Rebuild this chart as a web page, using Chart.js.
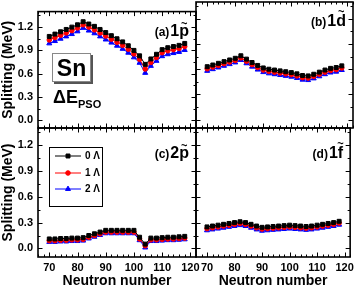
<!DOCTYPE html>
<html>
<head>
<meta charset="utf-8">
<script src="https://cdn.jsdelivr.net/npm/chart.js@4.4.1/dist/chart.umd.min.js"></script>
<style>
html, body { margin: 0; padding: 0; background: #fff; }
#wrap { position: relative; width: 358px; height: 288px; overflow: hidden; background: #fff; }
#wrap canvas { position: absolute; left: 0; top: 0; }
</style>
</head>
<body>
<div id="wrap">
    <canvas id="pa" width="358" height="288"></canvas>
    <canvas id="pb" width="358" height="288"></canvas>
    <canvas id="pc" width="358" height="288"></canvas>
    <canvas id="pd" width="358" height="288"></canvas>
</div>
<script>
// neutron numbers on the x axis
const neutrons = [70, 72, 74, 76, 78, 80, 82, 84, 86, 88, 90, 92, 94, 96, 98, 100, 102, 104, 106, 108, 110, 112, 114, 116, 118]

// (a) 1p~
const p1_0 = [1.08, 1.11, 1.14, 1.17, 1.20, 1.23, 1.27, 1.24, 1.21, 1.17, 1.13, 1.09, 1.05, 1.01, 0.96, 0.90, 0.83, 0.72, 0.79, 0.85, 0.91, 0.935, 0.95, 0.965, 0.99]
const p1_1 = [1.035, 1.065, 1.095, 1.125, 1.155, 1.19, 1.23, 1.20, 1.165, 1.125, 1.085, 1.045, 1.005, 0.965, 0.915, 0.855, 0.785, 0.66, 0.745, 0.81, 0.87, 0.895, 0.91, 0.925, 0.95]
const p1_2 = [0.99, 1.02, 1.05, 1.08, 1.11, 1.145, 1.19, 1.155, 1.12, 1.08, 1.04, 1.0, 0.96, 0.92, 0.87, 0.81, 0.74, 0.61, 0.70, 0.765, 0.825, 0.85, 0.865, 0.88, 0.905]
// (b) 1d~
const d1_0 = [0.63, 0.65, 0.67, 0.69, 0.71, 0.73, 0.76, 0.72, 0.68, 0.645, 0.615, 0.60, 0.59, 0.58, 0.57, 0.56, 0.545, 0.525, 0.52, 0.54, 0.565, 0.59, 0.61, 0.62, 0.64]
const d1_1 = [0.605, 0.625, 0.645, 0.665, 0.685, 0.705, 0.735, 0.695, 0.655, 0.62, 0.59, 0.575, 0.565, 0.555, 0.545, 0.535, 0.52, 0.50, 0.495, 0.515, 0.54, 0.565, 0.585, 0.595, 0.615]
const d1_2 = [0.58, 0.60, 0.62, 0.64, 0.66, 0.68, 0.71, 0.67, 0.63, 0.595, 0.565, 0.55, 0.54, 0.53, 0.52, 0.51, 0.495, 0.475, 0.47, 0.49, 0.515, 0.54, 0.56, 0.57, 0.59]
// (c) 2p~
const p2_0 = [0.11, 0.11, 0.115, 0.115, 0.12, 0.12, 0.125, 0.15, 0.17, 0.19, 0.21, 0.21, 0.21, 0.21, 0.21, 0.21, 0.13, 0.05, 0.12, 0.12, 0.125, 0.13, 0.13, 0.135, 0.14]
const p2_1 = [0.09, 0.09, 0.095, 0.095, 0.10, 0.10, 0.105, 0.13, 0.15, 0.17, 0.19, 0.19, 0.19, 0.19, 0.19, 0.19, 0.11, 0.03, 0.10, 0.10, 0.105, 0.11, 0.11, 0.115, 0.12]
const p2_2 = [0.075, 0.075, 0.08, 0.08, 0.085, 0.085, 0.09, 0.115, 0.135, 0.155, 0.175, 0.175, 0.175, 0.175, 0.175, 0.175, 0.095, 0.01, 0.085, 0.085, 0.09, 0.095, 0.095, 0.10, 0.105]
// (d) 1f~
const f1_0 = [0.25, 0.26, 0.27, 0.28, 0.29, 0.30, 0.31, 0.30, 0.28, 0.26, 0.245, 0.25, 0.255, 0.26, 0.265, 0.27, 0.265, 0.26, 0.255, 0.26, 0.27, 0.28, 0.29, 0.30, 0.315]
const f1_1 = [0.23, 0.24, 0.25, 0.26, 0.27, 0.28, 0.29, 0.28, 0.26, 0.24, 0.225, 0.23, 0.235, 0.24, 0.245, 0.25, 0.245, 0.24, 0.235, 0.24, 0.25, 0.26, 0.27, 0.28, 0.295]
const f1_2 = [0.21, 0.22, 0.23, 0.24, 0.25, 0.26, 0.27, 0.26, 0.24, 0.22, 0.205, 0.21, 0.215, 0.22, 0.225, 0.23, 0.225, 0.22, 0.215, 0.22, 0.23, 0.24, 0.25, 0.26, 0.275]

const seriesLabels = ['0 \u039B', '1 \u039B', '2 \u039B']
const xTicks = [70, 80, 90, 100, 110, 120]
const yTicks = [0.0, 0.3, 0.6, 0.9, 1.2]

let colors = ['#000000', '#ff0000', '#0000ff']
let markers = ['rect', 'circle', 'triangle']
let radii = [2.8, 2.3, 2.9]
const FONT = '"Liberation Sans", Arial, sans-serif'

// frame with inward ticks on all four sides
const frame = {
    id: 'frame',
    afterDatasetsDraw(chart) {
        const {ctx, chartArea: a, scales: {x, y}} = chart
        ctx.save()
        ctx.strokeStyle = '#000'
        ctx.lineWidth = 1
        ctx.beginPath()
        for (let v = 66; v <= 122; v += 2) {
            let px = Math.round(x.getPixelForValue(v)) + 0.5
            let len = v % 10 == 0 ? 4.5 : 2.5
            ctx.moveTo(px, a.bottom); ctx.lineTo(px, a.bottom - len)
            ctx.moveTo(px, a.top); ctx.lineTo(px, a.top + len)
        }
        for (let k = 0; k <= 9; k++) {
            let v = k * 0.15
            let py = Math.round(y.getPixelForValue(v)) + 0.5
            let len = k % 2 == 0 ? 4.5 : 2.5
            ctx.moveTo(a.left, py); ctx.lineTo(a.left + len, py)
            ctx.moveTo(a.right, py); ctx.lineTo(a.right - len, py)
        }
        ctx.stroke()
        ctx.lineWidth = 1.6
        ctx.strokeRect(a.left, a.top, a.right - a.left, a.bottom - a.top)
        ctx.restore()
    }
}

// "(a)1p~" style tag in the top right corner
const tag = {
    id: 'tag',
    afterDraw(chart, args, opts) {
        if (!opts.prefix) return
        const {ctx, chartArea: a} = chart
        ctx.save()
        ctx.fillStyle = '#000'
        ctx.textBaseline = 'alphabetic'
        ctx.font = 'bold 12px ' + FONT
        let w1 = ctx.measureText(opts.prefix).width
        ctx.font = 'bold 16px ' + FONT
        let w2 = ctx.measureText(opts.main).width
        let wl = ctx.measureText(opts.main.slice(-1)).width
        let x0 = a.right - 7 - w2 - w1 - 1
        let base = a.top + opts.dy
        ctx.font = 'bold 12px ' + FONT
        ctx.fillText(opts.prefix, x0, base)
        ctx.font = 'bold 16px ' + FONT
        ctx.fillText(opts.main, x0 + w1 + 1, base)
        ctx.font = 'bold 11px ' + FONT
        ctx.textAlign = 'center'
        ctx.fillText('~', x0 + w1 + 1 + w2 - wl / 2, base - opts.tilde)
        ctx.restore()
    }
}

// Sn box and Delta E_PSO in panel (a)
const snNote = {
    id: 'snNote',
    afterDraw(chart, args, opts) {
        if (!opts.show) return
        const ctx = chart.ctx
        ctx.save()
        ctx.fillStyle = '#555'
        ctx.fillRect(54, 55, 39, 29)
        ctx.fillStyle = '#fff'
        ctx.fillRect(52, 53, 39, 29)
        ctx.strokeStyle = '#888'
        ctx.lineWidth = 1
        ctx.strokeRect(52.5, 53.5, 38, 28)
        ctx.fillStyle = '#000'
        ctx.font = 'bold 23px ' + FONT
        ctx.textAlign = 'center'
        ctx.fillText('Sn', 71.5, 76)
        ctx.textAlign = 'left'
        ctx.font = 'bold 18px ' + FONT
        ctx.fillText('\u0394E', 53, 103)
        ctx.font = 'bold 11px ' + FONT
        ctx.fillText('PSO', 78, 108)
        ctx.restore()
    }
}

// boxed legend in panel (c)
const boxLegend = {
    id: 'boxLegend',
    afterDraw(chart, args, opts) {
        if (!opts.show) return
        const ctx = chart.ctx
        ctx.save()
        ctx.strokeStyle = '#000'
        ctx.lineWidth = 1
        ctx.strokeRect(49.5, 147.5, 53, 59)
        let rows = [156, 173, 189]
        chart.data.datasets.forEach((ds, i) => {
            let yy = rows[i]
            ctx.strokeStyle = ds.borderColor
            ctx.lineWidth = 1
            ctx.beginPath()
            ctx.moveTo(55, yy); ctx.lineTo(81, yy)
            ctx.stroke()
            ctx.fillStyle = ds.backgroundColor
            Chart.helpers.drawPoint(ctx, {pointStyle: ds.pointStyle, radius: ds.pointRadius, rotation: 0, borderWidth: 1}, 68, yy)
            ctx.fillStyle = '#000'
            ctx.font = 'bold 10px ' + FONT
            ctx.textBaseline = 'middle'
            ctx.fillText(ds.label, 85, yy + 0.5)
        })
        ctx.restore()
    }
}

function makePanel(id, box, series, tagOpts, extra) {
    // box = [left, top, right, bottom] of the plot area
    const showY = box[0] < 100
    const showX = box[3] > 200
    let datasets = series.map((vals, i) => ({
        label: seriesLabels[i],
        data: neutrons.map((n, j) => ({x: n, y: vals[j]})),
        borderColor: colors[i],
        backgroundColor: colors[i],
        borderWidth: 1,
        pointStyle: markers[i],
        pointRadius: radii[i],
        pointBorderWidth: 1,
        tension: 0
    }))
    const config = {
        type: 'line',
        data: {datasets: datasets},
        options: {
            animation: false,
            responsive: false,
            devicePixelRatio: 1,
            layout: {
                autoPadding: false,
                padding: {
                    left: showY ? 0 : box[0],
                    top: box[1],
                    right: 358 - box[2],
                    bottom: showX ? 0 : 288 - box[3]
                }
            },
            plugins: {
                legend: {display: false},
                tooltip: {enabled: false},
                tag: tagOpts,
                snNote: {show: !!(extra && extra.sn)},
                boxLegend: {show: !!(extra && extra.legend)}
            },
            scales: {
                x: {
                    type: 'linear',
                    min: 66,
                    max: 122,
                    display: showX,
                    grid: {display: false, drawTicks: false},
                    border: {display: false},
                    afterBuildTicks: s => { s.ticks = xTicks.map(v => ({value: v})) },
                    afterFit: s => { if (showX) s.height = 288 - box[3] },
                    ticks: {
                        padding: 4,
                        color: '#000',
                        maxRotation: 0,
                        font: {family: FONT, size: 11, weight: 'bold'}
                    },
                    title: {
                        display: true,
                        text: 'Neutron number',
                        color: '#000',
                        padding: 0,
                        font: {family: FONT, size: 14, weight: 'bold', lineHeight: 1}
                    }
                },
                y: {
                    min: -0.1,
                    max: 1.4,
                    display: showY,
                    grid: {display: false, drawTicks: false},
                    border: {display: false},
                    afterBuildTicks: s => { s.ticks = yTicks.map(v => ({value: v})) },
                    afterFit: s => { if (showY) s.width = box[0] },
                    ticks: {
                        padding: 5,
                        color: '#000',
                        callback: v => Number(v).toFixed(1),
                        font: {family: FONT, size: 11, weight: 'bold'}
                    },
                    title: {
                        display: true,
                        text: 'Splitting (MeV)',
                        color: '#000',
                        padding: 0,
                        font: {family: FONT, size: 14, weight: 'bold', lineHeight: 1.1}
                    }
                }
            }
        },
        plugins: [frame, tag, snNote, boxLegend]
    }
    return new Chart(document.getElementById(id).getContext('2d'), config)
}

makePanel('pa', [38, 2, 196, 128], [p1_0, p1_1, p1_2], {prefix: '(a)', main: '1p', dy: 24, tilde: 9}, {sn: true})
makePanel('pb', [196, 2, 353, 128], [d1_0, d1_1, d1_2], {prefix: '(b)', main: '1d', dy: 24, tilde: 11})
makePanel('pc', [38, 128, 196, 257], [p2_0, p2_1, p2_2], {prefix: '(c)', main: '2p', dy: 30, tilde: 9}, {legend: true})
makePanel('pd', [196, 128, 353, 257], [f1_0, f1_1, f1_2], {prefix: '(d)', main: '1f', dy: 30, tilde: 11})
</script>
</body>
</html>
